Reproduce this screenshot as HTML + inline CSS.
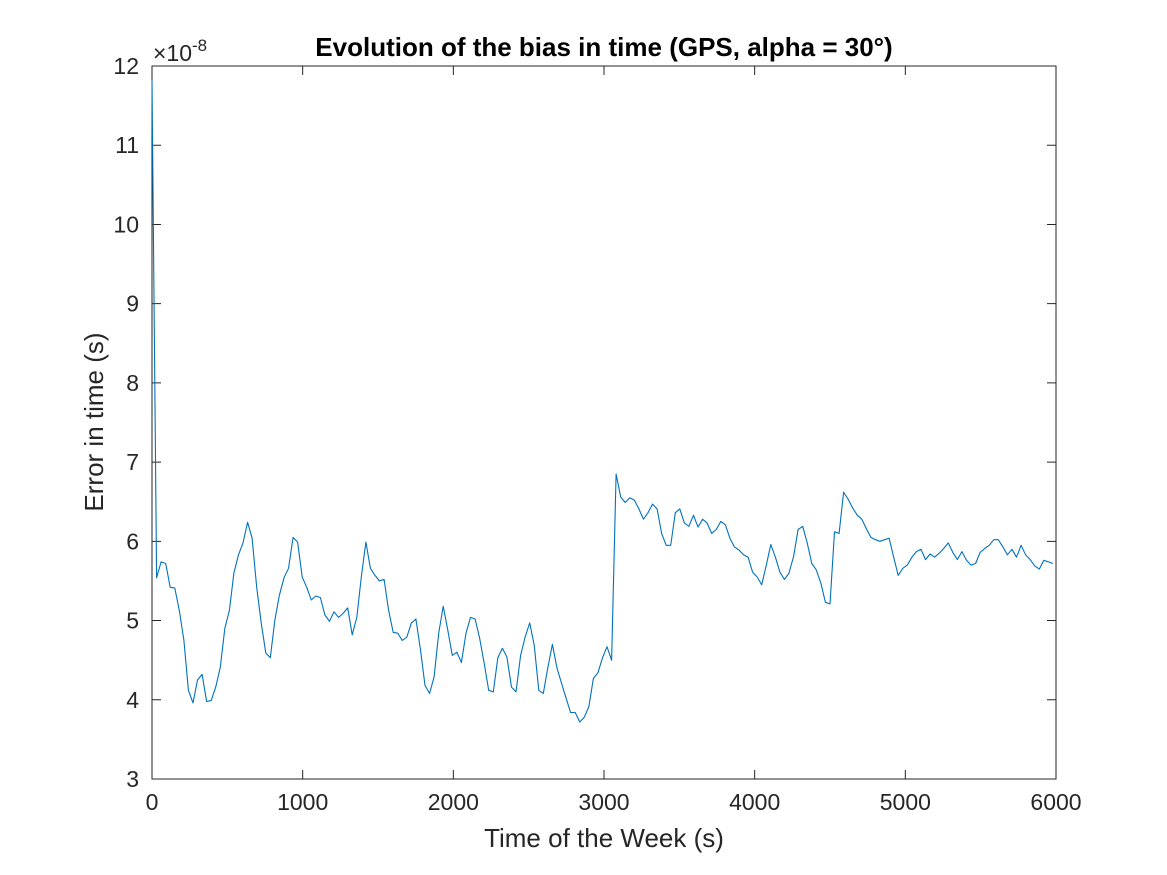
<!DOCTYPE html>
<html><head><meta charset="utf-8"><style>
body{margin:0;background:#fff;}
svg{display:block;font-family:"Liberation Sans",sans-serif;}
</style></head><body>
<svg id="chart" width="1167" height="875" viewBox="0 0 1167 875" xmlns="http://www.w3.org/2000/svg">
<rect x="0" y="0" width="1167" height="875" fill="#fff"/>
<g id="axes"></g>
<text x="604" y="56" text-anchor="middle" font-size="26" font-weight="bold" fill="#000">Evolution of the bias in time (GPS, alpha = 30°)</text>
<text x="153" y="61" font-size="23" fill="#262626">×10<tspan dy="-10" font-size="17">-8</tspan></text>
<text x="604" y="847" text-anchor="middle" font-size="26" fill="#262626">Time of the Week (s)</text>
<text transform="translate(103,422) rotate(-90)" text-anchor="middle" font-size="26" fill="#262626">Error in time (s)</text>
</svg>
<script>
const xTicks=[0,1000,2000,3000,4000,5000,6000];
const yTicks=[3,4,5,6,7,8,9,10,11,12];
const dt=30.2;
const values=[11.82,5.54,5.74,5.72,5.42,5.41,5.13,4.75,4.12,3.96,
4.25,4.32,3.98,3.99,4.16,4.41,4.90,5.13,5.60,5.83,
5.98,6.24,6.04,5.42,4.97,4.59,4.53,5.01,5.32,5.54,
5.66,6.05,5.99,5.55,5.42,5.26,5.31,5.29,5.07,4.99,
5.11,5.04,5.09,5.16,4.82,5.04,5.55,5.99,5.66,5.57,
5.50,5.52,5.13,4.85,4.84,4.75,4.79,4.97,5.02,4.63,
4.18,4.08,4.29,4.84,5.18,4.88,4.56,4.60,
4.47,4.84,5.04,5.02,4.78,4.46,4.12,4.10,4.53,4.65,4.54,4.16,4.10,4.56,4.79,4.97,4.69,4.12,4.08,4.41,4.70,4.40,4.21,4.02,3.84,3.84,3.72,3.78,3.91,4.27,4.34,4.53,4.67,4.50,6.85,
6.56,6.49,6.55,6.52,6.41,6.28,6.36,6.47,6.41,6.10,5.95,5.95,6.36,6.41,6.23,6.19,6.33,6.18,6.28,6.23,6.10,6.15,6.25,6.21,6.04,5.93,5.89,5.83,5.80,5.61,
5.55,5.45,5.70,5.96,5.80,5.61,5.52,5.60,5.81,6.15,6.19,5.98,5.72,5.64,5.47,5.23,5.21,6.12,6.10,6.62,6.53,6.42,6.33,6.28,6.16,6.05,6.02,6.00,6.02,6.04,
5.80,5.57,5.66,5.70,5.80,5.87,5.90,5.77,5.84,5.80,5.85,5.91,5.98,5.86,5.77,5.87,5.76,5.70,5.72,5.86,5.91,5.95,6.02,6.02,5.93,5.83,5.90,5.80,5.95,5.83,
5.77,5.69,5.65,5.76,5.74,5.72];
const times=values.map((v,i)=>i*dt);
const X0=152,X1=1056,Y0=779,Y1=66;
const sx=t=>X0+(t-0)/6000*(X1-X0);
const sy=v=>Y0-(v-3)/9*(Y0-Y1);
const NS="http://www.w3.org/2000/svg";
const g=document.getElementById('axes');
function mk(tag,attrs){const e=document.createElementNS(NS,tag);for(const k in attrs)e.setAttribute(k,attrs[k]);g.appendChild(e);return e;}
const box=mk('rect',{x:X0,y:Y1,width:X1-X0,height:Y0-Y1,fill:'none',stroke:'#262626','stroke-width':1});


xTicks.forEach(t=>{
 const x=sx(t);
 const a=mk('path',{d:`M${x},${Y0}v-9M${x},${Y1}v9`,stroke:'#262626','stroke-width':1});
 
 
 const l=mk('text',{x:x,y:810,'text-anchor':'middle','font-size':23,fill:'#262626'});
 l.textContent=t;
 
 
});
yTicks.forEach(v=>{
 const y=sy(v);
 const a=mk('path',{d:`M${X0},${y}h9M${X1},${y}h-9`,stroke:'#262626','stroke-width':1});
 
 
 const l=mk('text',{x:139,y:y+8,'text-anchor':'end','font-size':23,fill:'#262626'});
 l.textContent=v;
 
 
});
const d=values.map((v,i)=>(i?'L':'M')+sx(times[i]).toFixed(1)+','+sy(v).toFixed(1)).join('');
const line=mk('path',{d:d,fill:'none',stroke:'#0072BD','stroke-width':1.1,'stroke-linejoin':'round'});


</script>
</body></html>
